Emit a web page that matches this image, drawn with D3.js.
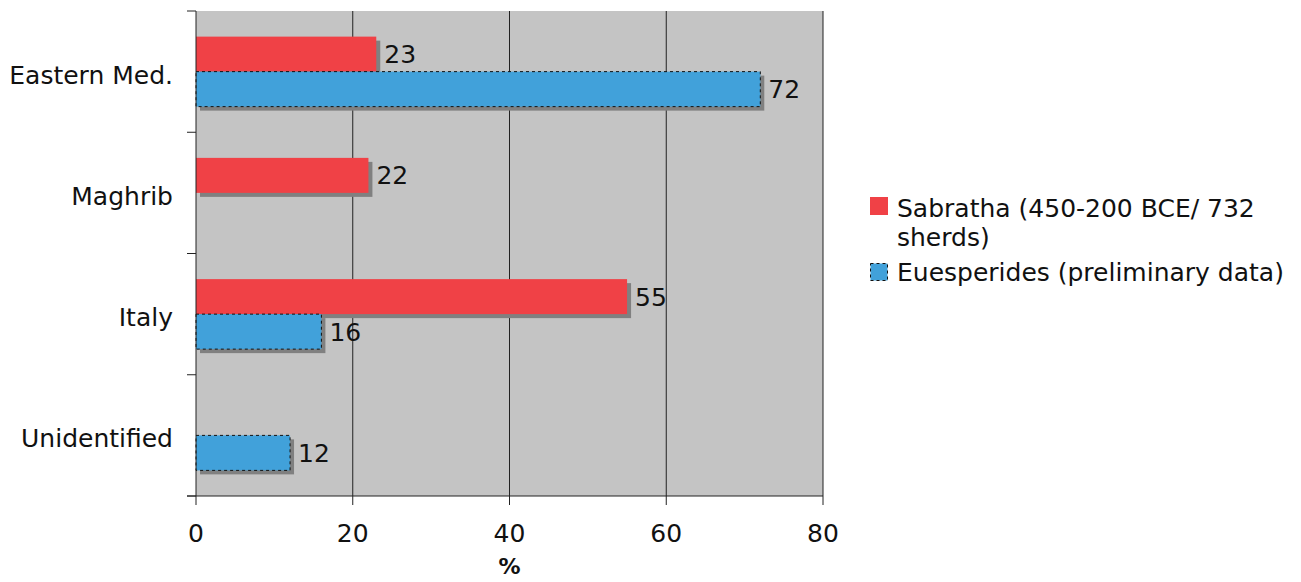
<!DOCTYPE html>
<html>
<head>
<meta charset="utf-8">
<script src="https://cdn.jsdelivr.net/npm/d3@7"></script>
<style>
  body { margin: 0; background: #fff; }
  text { font-family: "DejaVu Sans", Verdana, sans-serif; fill: #111; }
</style>
</head>
<body>
<div id="chart"></div>
<script>
const categories = ['Eastern Med.', 'Maghrib', 'Italy', 'Unidentified'];
const seriesNames = ['Sabratha (450-200 BCE/ 732 sherds)', 'Euesperides (preliminary data)'];
const sabratha = [23, 22, 55, null];
const euesperides = [72, null, 16, 12];
const xTicks = [0, 20, 40, 60, 80];

const width = 1301, height = 582;
const margin = { top: 11, left: 196, right: 478, bottom: 86 };
const plotW = width - margin.left - margin.right;
const plotH = height - margin.top - margin.bottom;
const fs = 25;

const colors = ['#f04146', '#41a1da'];

const svg = d3.select('#chart').append('svg')
  .attr('width', width)
  .attr('height', height);

const g = svg.append('g')
  .attr('transform', 'translate(' + margin.left + ',' + margin.top + ')');

const x = d3.scaleLinear().domain([0, 80]).range([0, plotW]);
const y = d3.scaleBand().domain(categories).range([0, plotH]).paddingInner(0).paddingOuter(0);
const barH = 35;

// plot background
g.append('rect')
  .attr('width', plotW)
  .attr('height', plotH)
  .attr('fill', '#c4c4c4');

// vertical grid lines
g.selectAll('.grid')
  .data(xTicks.slice(1))
  .enter().append('line')
  .attr('x1', d => x(d)).attr('x2', d => x(d))
  .attr('y1', 0).attr('y2', plotH)
  .attr('stroke', '#222').attr('stroke-width', 1);

const series = [sabratha, euesperides];
const bars = [];
series.forEach((vals, si) => {
  vals.forEach((v, i) => {
    if (v === null) return;
    const yc = y(categories[i]) + y.bandwidth() / 2;
    bars.push({ v: v, s: si, y: yc - barH + si * barH });
  });
});

// shadows
g.selectAll('.shadow')
  .data(bars)
  .enter().append('rect')
  .attr('x', 4)
  .attr('y', d => d.y + 4)
  .attr('width', d => x(d.v))
  .attr('height', barH)
  .attr('fill', '#808080');

// bars
g.selectAll('.bar')
  .data(bars)
  .enter().append('rect')
  .attr('x', 0)
  .attr('y', d => d.y)
  .attr('width', d => x(d.v))
  .attr('height', barH)
  .attr('fill', d => colors[d.s])
  .attr('stroke', d => d.s === 1 ? '#111' : 'none')
  .attr('stroke-width', 1)
  .attr('stroke-dasharray', d => d.s === 1 ? '3,3' : null);

// value labels
g.selectAll('.val')
  .data(bars)
  .enter().append('text')
  .attr('x', d => x(d.v) + 8)
  .attr('y', d => d.y + barH / 2 + 9)
  .attr('font-size', fs)
  .text(d => d.v);

// left axis line and band ticks
g.append('line')
  .attr('x1', 0).attr('x2', 0).attr('y1', 0).attr('y2', plotH)
  .attr('stroke', '#222');
const bounds = categories.map(c => y(c)).concat([plotH]);
g.selectAll('.ytick')
  .data(bounds)
  .enter().append('line')
  .attr('x1', -9).attr('x2', 0)
  .attr('y1', d => d).attr('y2', d => d)
  .attr('stroke', '#222');
g.selectAll('.ylab')
  .data(categories)
  .enter().append('text')
  .attr('x', -23)
  .attr('y', d => y(d) + y.bandwidth() / 2 + 12)
  .attr('text-anchor', 'end')
  .attr('font-size', fs)
  .text(d => d);

// bottom axis
g.append('line')
  .attr('x1', -9).attr('x2', plotW).attr('y1', plotH).attr('y2', plotH)
  .attr('stroke', '#222');
g.selectAll('.xtick')
  .data(xTicks)
  .enter().append('line')
  .attr('x1', d => x(d)).attr('x2', d => x(d))
  .attr('y1', plotH).attr('y2', plotH + 9)
  .attr('stroke', '#222');
g.selectAll('.xlab')
  .data(xTicks)
  .enter().append('text')
  .attr('x', d => x(d))
  .attr('y', plotH + 46)
  .attr('text-anchor', 'middle')
  .attr('font-size', fs)
  .text(d => d);
g.append('text')
  .attr('x', x(40))
  .attr('y', plotH + 78)
  .attr('text-anchor', 'middle')
  .attr('font-size', 22)
  .attr('font-weight', 'bold')
  .text('%');

// legend
const lg = svg.append('g').attr('transform', 'translate(870,197)');
lg.append('rect').attr('x', 0).attr('y', 0).attr('width', 18).attr('height', 18).attr('fill', colors[0]);
lg.append('text').attr('x', 27).attr('y', 20).attr('font-size', fs).text('Sabratha (450-200 BCE/ 732');
lg.append('text').attr('x', 27).attr('y', 49).attr('font-size', fs).text('sherds)');
lg.append('rect').attr('x', 0.5).attr('y', 66.5).attr('width', 17).attr('height', 17)
  .attr('fill', colors[1]).attr('stroke', '#111').attr('stroke-dasharray', '3,3');
lg.append('text').attr('x', 27).attr('y', 84).attr('font-size', fs).text(seriesNames[1]);
</script>
</body>
</html>
